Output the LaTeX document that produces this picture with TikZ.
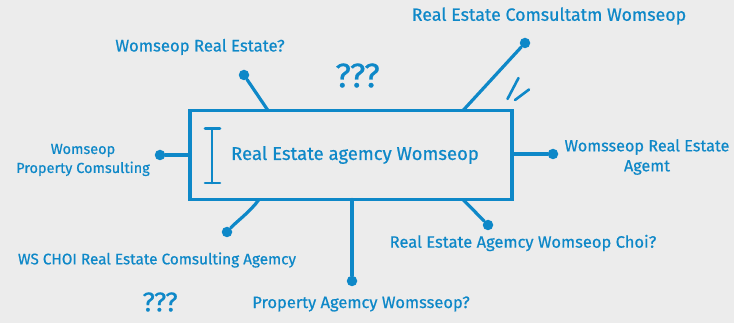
\documentclass[tikz,border=0pt]{standalone}
\usepackage{fontspec}
\setmainfont{Fira Sans}[FakeBold=0.6,UprightFeatures={FakeBold=0.6}]
\definecolor{ink}{HTML}{0E88C8}
\definecolor{bg}{HTML}{ECECEC}
\tikzset{
  sk/.style={draw=ink, line width=3.2pt, line cap=round},
  dot/.style={circle, fill=ink, inner sep=0pt, minimum size=10.5pt},
  lbl/.style={text=ink, font=\fontsize{16.5}{18}\selectfont, inner sep=0pt, align=center},
  qq/.style={text=ink, inner sep=0pt},
}
\begin{document}
\begin{tikzpicture}[x=1pt,y=-1pt]
\useasboundingbox[fill=bg] (0,0) rectangle (734,323);
% main box
\node[sk, line cap=butt, minimum width=322pt, minimum height=89pt, inner sep=0pt] (box) at (351,155) {};
\node[lbl, font=\fontsize{18.5}{20}\selectfont] (main) at (355,155) {Real Estate agemcy Womseop};
% I-beam
\coordinate (it) at (212,128.5);
\coordinate (ib) at (212,183);
\draw[sk, line width=2.6pt] (it) -- (ib);
\draw[sk, line width=2.6pt] ([xshift=-7pt]it) -- ([xshift=8pt]it);
\draw[sk, line width=2.6pt] ([xshift=-7pt]ib) -- ([xshift=8pt]ib);
% dots
\node[dot] (d1) at (244,75) {};
\node[dot] (d2) at (525,43) {};
\node[dot] (d3) at (553,154) {};
\node[dot] (d4) at (160,155) {};
\node[dot] (d5) at (227,232) {};
\node[dot] (d6) at (352,281) {};
\node[dot] (d7) at (488,225) {};
% box attachment points
\coordinate (a1) at (268,110.5);
\coordinate (a2) at (463,110.5);
\coordinate (a3) at (512,154);
\coordinate (a4) at (190,155);
\coordinate (a5) at (259,199.5);
\coordinate (a6) at (352,199.5);
\coordinate (a7) at (463,199.5);
% connectors
\draw[sk] (a1) -- (d1);
\draw[sk] (a2) -- (d2);
\draw[sk] (a3) -- (d3);
\draw[sk] (a4) -- (d4);
\draw[sk] (a5) .. controls (250,212) and (236,222) .. (d5);
\draw[sk] (a6) -- (d6);
\draw[sk] (a7) -- (d7);
% tick marks
\coordinate (t1a) at (507.5,99); \coordinate (t1b) at (518.5,78);
\coordinate (t2a) at (515,100); \coordinate (t2b) at (529,89.5);
\draw[sk, line width=2.6pt] (t1a) -- (t1b);
\draw[sk, line width=2.6pt] (t2a) -- (t2b);
% labels
\node[lbl, font=\fontsize{16.7}{18}\selectfont] (l1) at (200,47) {Womseop Real Estate?};
\node[lbl, font=\fontsize{17.8}{19}\selectfont] (l2) at (549,16) {Real Estate Comsultatm Womseop};
\node[lbl, font=\fontsize{16.2}{20}\selectfont] (l3) at (647,157) {Womsseop Real Estate\\Agemt};
\node[lbl, font=\fontsize{14.5}{19}\selectfont] (l4) at (83,160) {Womseop\\Property Comsulting};
\node[lbl, font=\fontsize{15.3}{17}\selectfont] (l5) at (157,260) {WS CHOI Real Estate Comsulting Agemcy};
\node[lbl] (l6) at (361,304) {Property Agemcy Womsseop?};
\node[lbl] (l7) at (523,243) {Real Estate Agemcy Womseop Choi?};
\node[qq, font=\fontsize{34}{36}\selectfont] (q1) at (357.5,75.5) {???};
\node[qq, font=\fontsize{27}{29}\selectfont] (q2) at (160,302) {???};
\end{tikzpicture}
\end{document}
